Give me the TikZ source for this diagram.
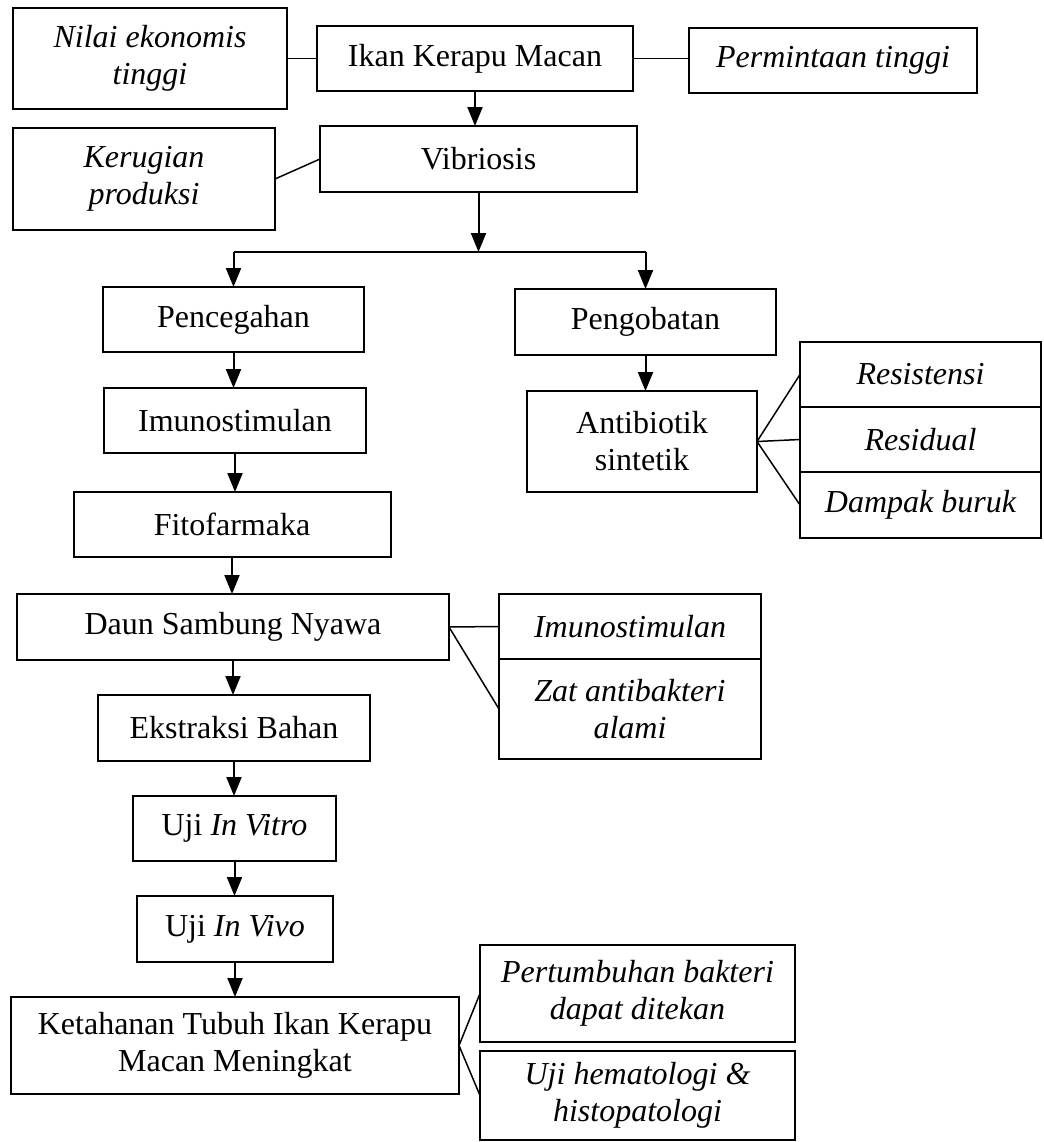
\documentclass[tikz,border=0pt]{standalone}
\usepackage{fontspec}
\setmainfont{Liberation Serif}
\usetikzlibrary{arrows.meta}

\begin{document}
\begin{tikzpicture}[x=0.5pt,y=-0.5pt]
\tikzstyle{box}=[draw,line width=1pt,align=center,inner sep=2pt,outer sep=0pt,font=\fontsize{16}{18.5}\selectfont]
\tikzstyle{side}=[box,font=\fontsize{16}{18.5}\selectfont\itshape]
\tikzstyle{arr}=[-{Triangle[length=9.5pt,width=7.5pt]},line width=1pt]
\tikzstyle{link}=[line width=0.75pt]
\useasboundingbox (0,0) rectangle (1044,1142);
    % top row
    \node[side,minimum width=137pt,minimum height=50.5pt] (nilai) at (150,58.5) {Nilai ekonomis\\tinggi};
    \node[box,minimum width=158pt,minimum height=32.5pt] (ikan) at (475,58.5) {Ikan Kerapu Macan};
    \node[side,minimum width=144pt,minimum height=32.5pt] (permintaan) at (833,60.5) {Permintaan tinggi};
    \node[box,minimum width=158.5pt,minimum height=33pt] (vibriosis) at (478.5,159) {Vibriosis};
    \node[side,minimum width=131pt,minimum height=51pt] (kerugian) at (144,179) {Kerugian\\produksi};
    % two branches
    \node[box,minimum width=130.5pt,minimum height=32.5pt] (pencegahan) at (233.5,319.5) {Pencegahan};
    \node[box,minimum width=130.5pt,minimum height=33pt] (pengobatan) at (645.5,322) {Pengobatan};
    \node[box,minimum width=131pt,minimum height=32.5pt] (imuno) at (235,420.5) {Imunostimulan};
    \node[box,minimum width=115pt,minimum height=50.5pt] (antibiotik) at (642,441.5) {Antibiotik\\sintetik};
    \node[side,minimum width=120.5pt,minimum height=32.5pt] (resistensi) at (920.5,374.5) {Resistensi};
    \node[side,minimum width=120.5pt,minimum height=32.5pt] (residual) at (920.5,439.5) {Residual};
    \node[side,minimum width=120.5pt,minimum height=33pt] (dampak) at (920.5,505) {Dampak buruk};
    \node[box,minimum width=158.5pt,minimum height=32.5pt] (fito) at (232,524.5) {Fitofarmaka};
    \node[box,minimum width=216pt,minimum height=33pt] (daun) at (233,627) {Daun Sambung Nyawa};
    \node[side,minimum width=131pt,minimum height=32.5pt] (imunoalt) at (630,626.5) {Imunostimulan};
    \node[side,minimum width=131pt,minimum height=50pt] (zat) at (630,709) {Zat antibakteri\\alami};
    \node[box,minimum width=136pt,minimum height=33pt] (ekstraksi) at (234,728) {Ekstraksi Bahan};
    \node[box,minimum width=101.5pt,minimum height=32.5pt] (vitro) at (234.5,828.5) {Uji \textit{In Vitro}};
    \node[box,minimum width=98pt,minimum height=33pt] (vivo) at (235,929) {Uji \textit{In Vivo}};
    \node[box,minimum width=224pt,minimum height=48.5pt] (ketahanan) at (235,1045.5) {Ketahanan Tubuh Ikan Kerapu\\Macan Meningkat};
    \node[side,minimum width=157.5pt,minimum height=48.5pt] (pertumbuhan) at (637.5,993.5) {Pertumbuhan bakteri\\dapat ditekan};
    \node[side,minimum width=157.5pt,minimum height=44.5pt] (hema) at (637.5,1095.5) {Uji hematologi \&\\histopatologi};
    % arrows
    \draw[arr] (ikan.south) -- (ikan.south |- vibriosis.north);
    \coordinate (split) at (vibriosis.south |- 0,252);
    \draw[arr] (vibriosis.south) -- (split);
    \draw[line width=1pt] (pencegahan.north |- split) -- (pengobatan.north |- split);
    \draw[arr] (pencegahan.north |- split) -- (pencegahan.north);
    \draw[arr] (pengobatan.north |- split) -- (pengobatan.north);
    \draw[arr] (pengobatan.south) -- (pengobatan.south |- antibiotik.north);
    \foreach \a/\b in {pencegahan/imuno,imuno/fito,fito/daun,daun/ekstraksi,ekstraksi/vitro,vitro/vivo,vivo/ketahanan}
        \draw[arr] (\a.south) -- (\a.south |- \b.north);
    % side links
    \draw[link] (nilai.east) -- (ikan.west);
    \draw[link] (ikan.east) -- (ikan.east -| permintaan.west);
    \draw[link] (kerugian.east) -- (vibriosis.west);
    \foreach \t in {resistensi,residual,dampak}
        \draw[link] (antibiotik.east) -- (\t.west);
    \foreach \t in {imunoalt,zat}
        \draw[link] (daun.east) -- (\t.west);
    \foreach \t in {pertumbuhan,hema}
        \draw[link] (ketahanan.east) -- (\t.west);
\end{tikzpicture}
\end{document}
